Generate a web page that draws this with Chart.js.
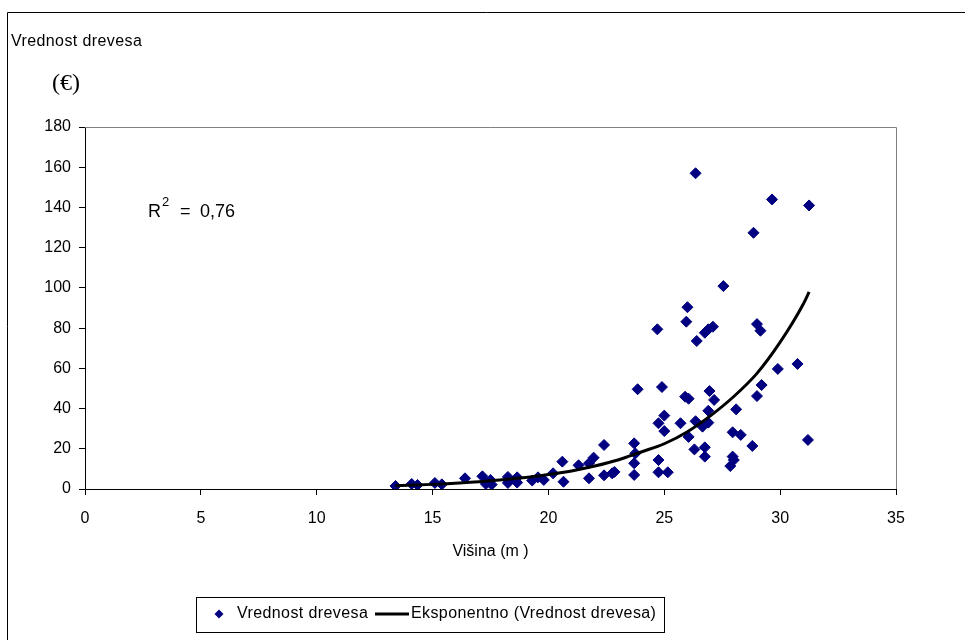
<!DOCTYPE html>
<html>
<head>
<meta charset="utf-8">
<title>Vrednost drevesa</title>
<script src="https://cdn.jsdelivr.net/npm/chart.js@4.4.1/dist/chart.umd.min.js"></script>
<style>
  html, body { margin: 0; padding: 0; background: #fff; }
  #wrap { position: relative; width: 965px; height: 640px; }
</style>
</head>
<body>
<div id="wrap"><canvas id="valueChart" width="965" height="640"></canvas></div>
<script>
// Tree height (m) and tree value (EUR)
const heightM = [
  13.4, 14.1, 14.35, 15.1, 15.4, 16.4, 17.15, 17.3, 17.5, 17.55,
  18.25, 18.25, 18.3, 18.65, 18.65, 19.3, 19.55, 19.8, 20.2, 20.6,
  20.65, 21.3, 21.75, 21.75, 21.95, 22.4, 22.4, 22.75, 22.85, 23.7,
  23.75, 23.7, 23.7, 23.85, 24.7, 24.75, 24.75, 24.75, 24.9, 25.0,
  25.0, 25.15, 25.7, 25.9, 25.95, 26.0, 26.05, 26.05, 26.3, 26.35,
  26.35, 26.4, 26.65, 26.75, 26.75, 26.75, 26.9, 26.9, 26.9, 26.95,
  27.1, 27.15, 27.55, 27.85, 27.95, 27.95, 28.0, 28.1, 28.3, 28.85,
  28.8, 29.0, 29.0, 29.15, 29.2, 29.65, 29.9, 30.75, 31.25, 31.2
];
const valueEur = [
  1.5, 2.5, 2.0, 3.0, 2.3, 5.3, 6.3, 2.5, 4.5, 2.2,
  6.0, 3.0, 4.0, 5.8, 3.2, 4.2, 5.8, 4.5, 7.8, 13.6,
  3.6, 11.8, 5.3, 12.8, 15.6, 21.9, 6.8, 7.8, 8.5, 22.7,
  17.7, 12.8, 7.0, 49.6, 79.4, 32.7, 14.4, 8.3, 50.7, 36.5,
  28.8, 8.3, 32.7, 45.9, 83.2, 90.4, 44.9, 25.9, 19.7, 157,
  33.7, 73.6, 31.0, 77.7, 20.7, 16.1, 79.4, 38.9, 33.0, 48.7,
  80.7, 44.3, 100.9, 11.4, 28.2, 16.1, 14.4, 39.6, 26.9, 127.4,
  21.4, 82.0, 46.2, 78.7, 51.7, 144, 59.7, 62.2, 141, 24.4
];

// Exponential trend line
const trendX = [13.4, 15, 17, 19, 20, 21, 22, 23, 24, 25, 26, 27, 28, 29, 30, 31, 31.25];
const trendY = [1.6, 2.3, 3.6, 5.7, 7.2, 9.0, 11.4, 14.4, 18.4, 22.5, 28.5, 36.5, 46, 57.5, 73, 92, 98];

const xTicks = [0, 5, 10, 15, 20, 25, 30, 35];
const yTicks = [0, 20, 40, 60, 80, 100, 120, 140, 160, 180];

const scatterLabel = "Vrednost drevesa";
const trendLabel = "Eksponentno (Vrednost drevesa)";
const rSquared = "0,76";

const NAVY = "#000080";
const FONT = "'Liberation Sans', Arial, sans-serif";

// Texts, borders and the boxed legend that Chart.js doesn't place this way
const decorPlugin = {
  id: "decor",
  afterDraw(chart) {
    const ctx = chart.ctx;
    const area = chart.chartArea;
    ctx.save();

    // outer chart border (right/bottom fall outside the picture)
    ctx.strokeStyle = "#000";
    ctx.lineWidth = 1;
    ctx.beginPath();
    ctx.moveTo(965, 12.5);
    ctx.lineTo(7.5, 12.5);
    ctx.lineTo(7.5, 640);
    ctx.stroke();

    // plot area frame, top and right
    ctx.strokeStyle = "#808080";
    ctx.beginPath();
    ctx.moveTo(area.left, area.top + 0.5);
    ctx.lineTo(area.right + 0.5, area.top + 0.5);
    ctx.lineTo(area.right + 0.5, area.bottom);
    ctx.stroke();

    // y axis title
    ctx.fillStyle = "#000";
    ctx.textBaseline = "middle";
    ctx.textAlign = "left";
    ctx.font = "16px " + FONT;
    ctx.letterSpacing = "0.4px";
    ctx.fillText(scatterLabel, 11, 42);
    ctx.letterSpacing = "0px";
    ctx.textAlign = "center";
    ctx.font = "24px 'Liberation Serif', 'Times New Roman', serif";
    ctx.fillText("(€)", 66, 84);

    // R squared label
    ctx.textAlign = "left";
    ctx.textBaseline = "alphabetic";
    ctx.font = "18px " + FONT;
    ctx.fillText("R", 148, 217);
    ctx.font = "13px " + FONT;
    ctx.fillText("2", 162, 206);
    ctx.font = "18px " + FONT;
    ctx.fillText("=", 180, 217);
    ctx.fillText(rSquared, 200, 217);

    // legend
    const ds = chart.data.datasets;
    ctx.strokeStyle = "#000";
    ctx.lineWidth = 1;
    ctx.strokeRect(196.5, 597.5, 468, 35);
    const ly = 614;
    ctx.fillStyle = NAVY;
    ctx.beginPath();
    ctx.moveTo(219 - 4.5, ly);
    ctx.lineTo(219, ly - 4.5);
    ctx.lineTo(219 + 4.5, ly);
    ctx.lineTo(219, ly + 4.5);
    ctx.closePath();
    ctx.fill();
    ctx.strokeStyle = "#000";
    ctx.lineWidth = 3;
    ctx.beginPath();
    ctx.moveTo(375, ly);
    ctx.lineTo(409, ly);
    ctx.stroke();
    ctx.fillStyle = "#000";
    ctx.textBaseline = "middle";
    ctx.font = "16px " + FONT;
    ctx.letterSpacing = "0.4px";
    ctx.fillText(ds[0].label, 237, ly);
    ctx.fillText(ds[1].label, 411, ly);
    ctx.letterSpacing = "0px";

    ctx.restore();
  }
};

const valueChart = new Chart(document.getElementById("valueChart"), {
  type: "scatter",
  data: {
    datasets: [{
      label: scatterLabel,
      data: heightM.map((h, i) => ({ x: h, y: valueEur[i] })),
      pointStyle: "rectRot",
      pointRadius: 5.5,
      pointBackgroundColor: NAVY,
      pointBorderColor: NAVY,
      pointBorderWidth: 1,
      showLine: false,
      order: 1
    }, {
      label: trendLabel,
      type: "line",
      data: trendX.map((h, i) => ({ x: h, y: trendY[i] })),
      borderColor: "#000",
      borderWidth: 3,
      pointRadius: 0,
      tension: 0.4,
      cubicInterpolationMode: "monotone",
      fill: false,
      order: 0
    }]
  },
  options: {
    responsive: false,
    animation: false,
    events: [],
    layout: { padding: { left: 0, top: 127, right: 69, bottom: 79 } },
    plugins: {
      legend: { display: false },
      tooltip: { enabled: false }
    },
    scales: {
      x: {
        type: "linear",
        min: 0,
        max: 35,
        afterBuildTicks: (scale) => { scale.ticks = xTicks.map(v => ({ value: v })); },
        afterFit: (scale) => { scale.height = 72; },
        grid: { drawOnChartArea: false, drawTicks: true, tickLength: 6, color: "#000" },
        border: { display: true, color: "#000", width: 1 },
        ticks: { color: "#000", padding: 14, font: { family: FONT, size: 16 } },
        title: {
          display: true,
          text: "Višina (m )",
          color: "#000",
          padding: 0,
          font: { family: FONT, size: 16 }
        }
      },
      y: {
        type: "linear",
        min: 0,
        max: 180,
        afterBuildTicks: (scale) => { scale.ticks = yTicks.map(v => ({ value: v })); },
        afterFit: (scale) => { scale.width = 85; },
        grid: { drawOnChartArea: false, drawTicks: true, tickLength: 6, color: "#000" },
        border: { display: true, color: "#000", width: 1 },
        ticks: { color: "#000", padding: 8, font: { family: FONT, size: 16 } }
      }
    }
  },
  plugins: [decorPlugin]
});
</script>
</body>
</html>
